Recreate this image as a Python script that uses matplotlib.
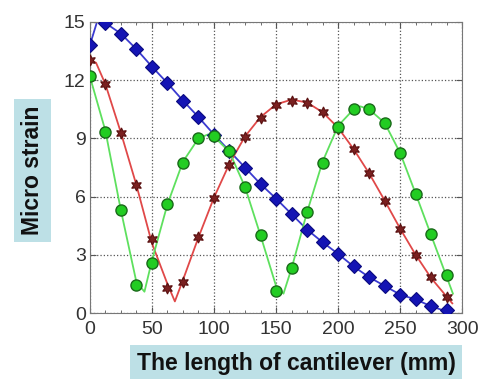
import matplotlib
matplotlib.use("Agg")
import matplotlib.pyplot as plt
import numpy as np

# measured points, every 12.5 mm
x_pts = np.arange(24) * 12.5
blue_pts = [13.8, 14.95, 14.4, 13.6, 12.7, 11.85, 10.95, 10.1, 9.2, 8.35, 7.5, 6.65,
            5.9, 5.1, 4.3, 3.65, 3.05, 2.4, 1.85, 1.4, 0.95, 0.7, 0.35, 0.15]
red_pts = [13.05, 11.8, 9.3, 6.6, 3.8, 1.3, 1.6, 3.9, 5.95, 7.65, 9.05, 10.05,
           10.7, 10.95, 10.8, 10.35, 9.5, 8.45, 7.2, 5.75, 4.35, 3.0, 1.85, 0.85]
green_pts = [12.2, 9.35, 5.3, 1.45, 2.6, 5.6, 7.75, 9.0, 9.1, 8.35, 6.5, 4.0,
             1.15, 2.3, 5.2, 7.75, 9.6, 10.5, 10.5, 9.8, 8.25, 6.15, 4.05, 1.95]

# fitted curves
blue_line_x = [0, 6, 12.5, 25, 37.5, 50, 62.5, 75, 87.5, 100, 112.5, 125, 137.5, 150,
               162.5, 175, 187.5, 200, 212.5, 225, 237.5, 250, 262.5, 275, 291]
blue_line_y = [13.8, 15.05, 14.95, 14.4, 13.6, 12.7, 11.85, 10.95, 10.1, 9.2, 8.35, 7.5,
               6.65, 5.9, 5.1, 4.3, 3.65, 3.05, 2.4, 1.85, 1.4, 0.95, 0.7, 0.35, 0.0]
red_line_x = [0, 5, 12.5, 25, 37.5, 50, 62.5, 68.5, 75, 87.5, 100, 112.5, 125, 137.5,
              150, 162.5, 175, 187.5, 200, 212.5, 225, 237.5, 250, 262.5, 275, 292]
red_line_y = [13.05, 12.9, 11.8, 9.3, 6.6, 3.6, 1.5, 0.6, 1.7, 3.9, 5.95, 7.7, 9.1, 10.1,
              10.75, 11.0, 10.85, 10.35, 9.55, 8.45, 7.2, 5.8, 4.35, 3.0, 1.8, 0.5]
green_line_x = [0, 12.5, 25, 37.5, 44, 50, 62.5, 75, 87.5, 95, 100, 112.5, 125, 137.5,
                150, 156, 162.5, 175, 187.5, 200, 212.5, 218, 225, 237.5, 250, 262.5,
                275, 292.5]
green_line_y = [12.2, 9.4, 5.3, 1.6, 1.1, 2.7, 5.6, 7.8, 9.0, 9.2, 9.1, 8.3, 6.5, 4.0,
                1.4, 1.0, 2.3, 5.2, 7.8, 9.65, 10.5, 10.65, 10.5, 9.8, 8.25, 6.15, 4.0, 1.0]

plt.rcParams['font.family'] = ['Liberation Sans', 'DejaVu Sans']

fig = plt.figure(figsize=(4.83, 3.79), dpi=100)
ax = fig.add_axes([0.186, 0.174, 0.771, 0.768])

ax.plot(blue_line_x, blue_line_y, color="#3a3ad0", lw=1.3, zorder=2)
ax.plot(red_line_x, red_line_y, color="#e04848", lw=1.3, zorder=2)
ax.plot(green_line_x, green_line_y, color="#5ee05e", lw=1.3, zorder=2)

ax.plot(x_pts, blue_pts, ls="none", marker="D", ms=7, mfc="#1414b4", mec="#0a0a80",
        mew=0.8, zorder=3)
ax.plot(x_pts, red_pts, ls="none", marker=(6, 1, 0), ms=8, mfc="#7a2020", mec="#5a1010",
        mew=0.8, zorder=3)
ax.plot(x_pts, green_pts, ls="none", marker="o", ms=8, mfc="#22cc22", mec="#1a6a1a",
        mew=1.0, zorder=4)

ax.set_xlim(0, 300)
ax.set_ylim(0, 15)
ax.set_xticks(np.arange(0, 301, 50))
ax.set_yticks(np.arange(0, 16, 3))
ax.set_xticks(np.arange(0, 301, 12.5), minor=True)
ax.grid(True, which="major", ls=":", color="#555555", lw=0.9)
ax.tick_params(which="both", direction="in", top=True, right=True, color="#555555",
               labelsize=14, labelcolor="#333333")
ax.tick_params(axis="x", pad=6)
ax.tick_params(axis="y", pad=3)
ax.tick_params(which="major", length=4)
ax.tick_params(which="minor", length=2)
for s in ax.spines.values():
    s.set_color("#777777")

box = dict(boxstyle="square,pad=0.3", fc="#bde0e6", ec="none")
fig.text(0.613, 0.042, "The length of cantilever (mm)", ha="center", va="center",
         fontsize=16.5, fontweight="bold", color="#111111", bbox=box)
fig.text(0.068, 0.551, "Micro strain", ha="center", va="center", rotation=90,
         fontsize=16.5, fontweight="bold", color="#111111", bbox=box)

fig.savefig("out.png", dpi=100)
